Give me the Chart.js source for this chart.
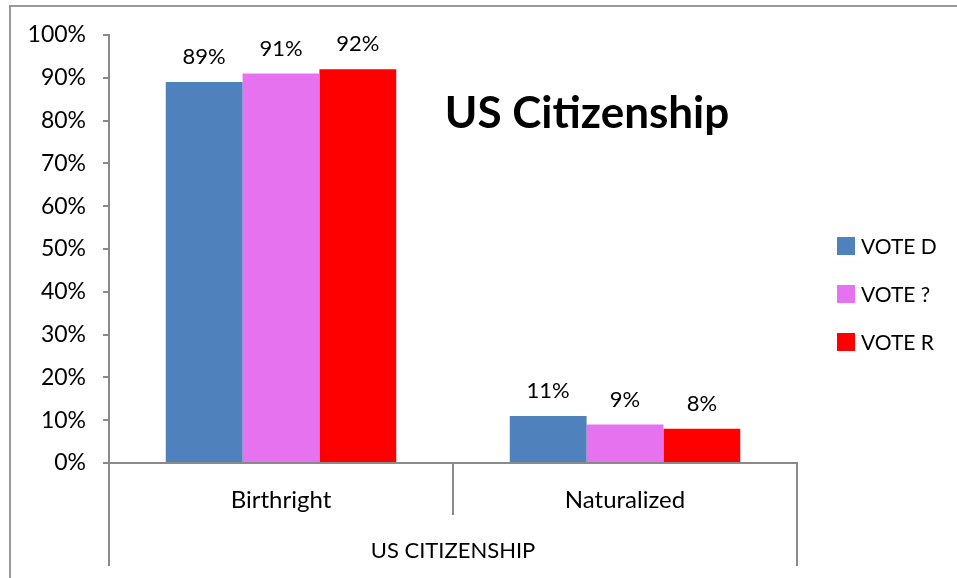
<!DOCTYPE html>
<html>
<head>
<meta charset="utf-8">
<script src="https://cdn.jsdelivr.net/npm/chart.js@4/dist/chart.umd.min.js"></script>
<style>
  html, body { margin: 0; padding: 0; background: #ffffff; }
  #wrap { position: relative; width: 957px; height: 578px; }
</style>
</head>
<body>
<div id="wrap"><canvas id="chart" width="957" height="578"></canvas></div>
<script>
// Categories, group title and series
const categories = ['Birthright', 'Naturalized'];
const groupTitle = 'US CITIZENSHIP';
const chartTitle = 'US Citizenship';
const seriesNames = ['VOTE D', 'VOTE ?', 'VOTE R'];
const voteD = [89, 11];
const voteQ = [91, 9];
const voteR = [92, 8];
const seriesColors = ['#4F81BD', '#E672F0', '#FF0000'];
const yTicks = [0, 10, 20, 30, 40, 50, 60, 70, 80, 90, 100];

const FONT = 'Lato, "Open Sans", "DejaVu Sans", sans-serif';
const AXIS_GRAY = '#8a8a8a';

// Frame, extended axis dividers, category names, value labels, title and legend
const decorations = {
  id: 'decorations',
  beforeDraw(chart) {
    const ctx = chart.ctx;
    ctx.save();
    ctx.fillStyle = '#ffffff';
    ctx.fillRect(0, 0, chart.width, chart.height);
    ctx.strokeStyle = '#999999';
    ctx.lineWidth = 2;
    ctx.beginPath();
    ctx.moveTo(10, chart.height);
    ctx.lineTo(10, 6);
    ctx.lineTo(chart.width, 6);
    ctx.stroke();
    ctx.restore();
  },
  afterDraw(chart) {
    const ctx = chart.ctx;
    const area = chart.chartArea;
    const x = chart.scales.x;
    ctx.save();

    // outer dividers of the two-level category axis
    ctx.strokeStyle = AXIS_GRAY;
    ctx.lineWidth = 2;
    ctx.beginPath();
    ctx.moveTo(area.left, area.bottom);
    ctx.lineTo(area.left, area.bottom + 103);
    ctx.moveTo(area.right, area.bottom);
    ctx.lineTo(area.right, area.bottom + 103);
    ctx.stroke();

    // category names and group name
    ctx.fillStyle = '#000000';
    ctx.textAlign = 'center';
    ctx.textBaseline = 'middle';
    ctx.font = '24px ' + FONT;
    categories.forEach((c, i) => {
      ctx.fillText(c, x.getPixelForValue(i), area.bottom + 37);
    });
    ctx.font = '22px ' + FONT;
    ctx.fillText(groupTitle, (area.left + area.right) / 2, area.bottom + 88);

    // value labels above bars
    ctx.font = '22px ' + FONT;
    chart.data.datasets.forEach((ds, di) => {
      const meta = chart.getDatasetMeta(di);
      meta.data.forEach((bar, i) => {
        ctx.fillText(ds.data[i] + '%', bar.x, bar.y - 25);
      });
    });

    // title
    ctx.font = 'bold 44px ' + FONT;
    ctx.textBaseline = 'alphabetic';
    ctx.fillText(chartTitle, 587, 128);

    // legend
    ctx.font = '21px ' + FONT;
    ctx.textAlign = 'left';
    ctx.textBaseline = 'middle';
    chart.data.datasets.forEach((ds, di) => {
      const cy = 246 + di * 48;
      ctx.fillStyle = ds.backgroundColor;
      ctx.fillRect(837, cy - 9, 18, 18);
      ctx.fillStyle = '#000000';
      ctx.fillText(ds.label, 861, cy + 1);
    });
    ctx.restore();
  }
};

new Chart(document.getElementById('chart'), {
  type: 'bar',
  data: {
    labels: categories,
    datasets: [
      { label: seriesNames[0], data: voteD, backgroundColor: seriesColors[0] },
      { label: seriesNames[1], data: voteQ, backgroundColor: seriesColors[1] },
      { label: seriesNames[2], data: voteR, backgroundColor: seriesColors[2] }
    ]
  },
  options: {
    responsive: false,
    animation: false,
    devicePixelRatio: 1,
    layout: { padding: { top: 35, left: 0, right: 160, bottom: 0 } },
    datasets: { bar: { barPercentage: 1.0, categoryPercentage: 0.67 } },
    plugins: { legend: { display: false }, tooltip: { enabled: false }, title: { display: false } },
    scales: {
      x: {
        offset: true,
        ticks: { display: false },
        grid: { offset: true, drawOnChartArea: false, drawTicks: true, tickLength: 52, color: AXIS_GRAY, lineWidth: 2 },
        border: { color: AXIS_GRAY, width: 2 },
        afterFit(scale) { scale.height = 115; }
      },
      y: {
        min: 0,
        max: 100,
        afterBuildTicks(scale) { scale.ticks = yTicks.map(v => ({ value: v })); },
        ticks: {
          callback: v => v + '%',
          color: '#000000',
          font: { family: FONT, size: 23 },
          padding: 17
        },
        grid: { drawOnChartArea: false, tickLength: 6, color: AXIS_GRAY, lineWidth: 2 },
        border: { color: AXIS_GRAY, width: 2 },
        afterFit(scale) { scale.width = 109; }
      }
    }
  },
  plugins: [decorations]
});
</script>
</body>
</html>
